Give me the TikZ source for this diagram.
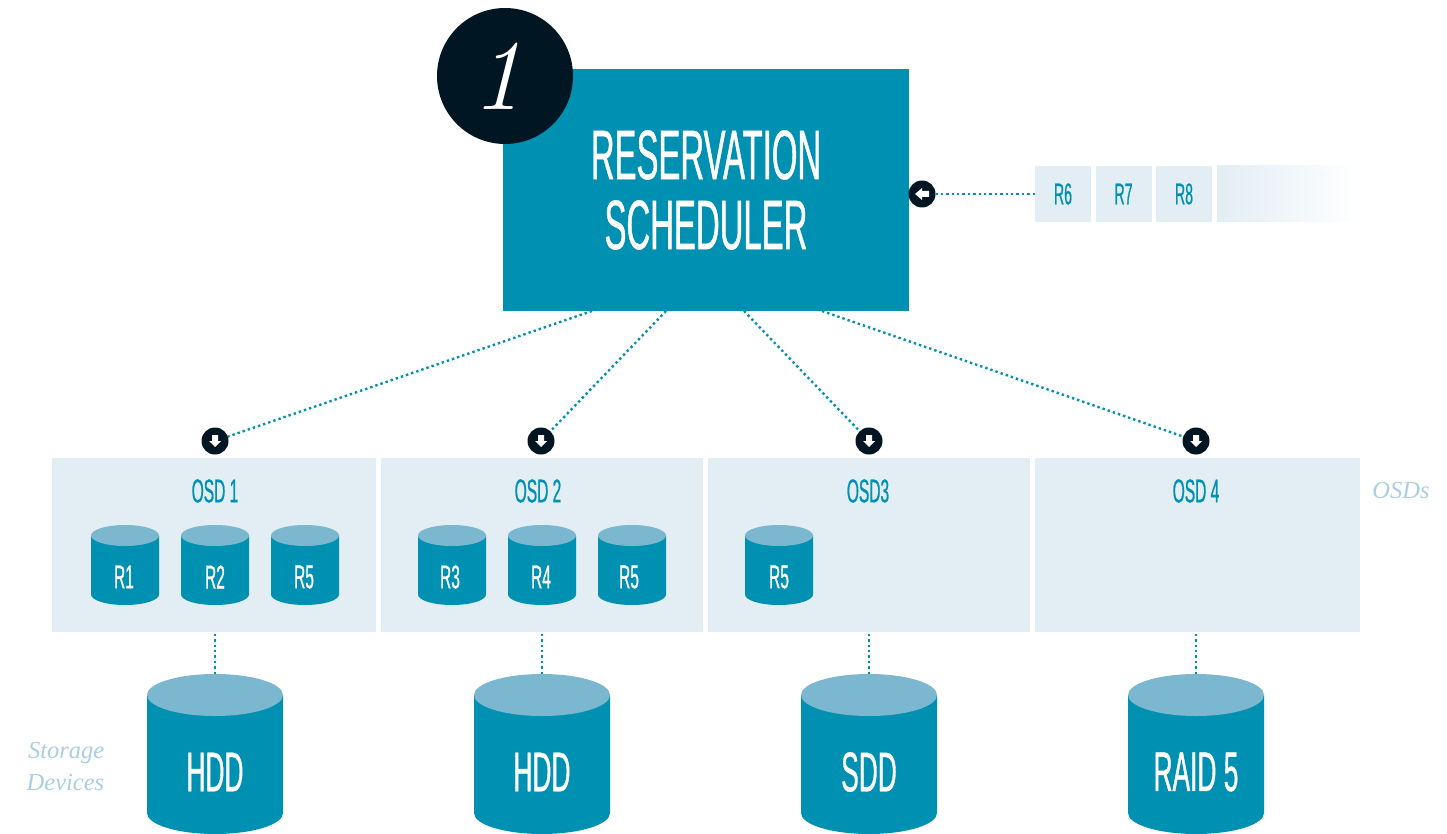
\documentclass[tikz,border=0pt]{standalone}
\usepackage{fontspec}
\usetikzlibrary{shapes,arrows.meta,calc}
\newfontfamily\condfont[FakeStretch=0.47,FakeBold=0.6]{Liberation Sans}
\newfontfamily\noteserif{Liberation Serif}
\definecolor{tealmain}{HTML}{0090B2}
\definecolor{tealcap}{HTML}{7BB8CF}
\definecolor{paleblue}{HTML}{E2EDF4}
\definecolor{notecolor}{HTML}{A9CFE0}
\definecolor{nightblue}{HTML}{011623}
\tikzset{
  panel/.style={rectangle,fill=paleblue,inner sep=0pt,outer sep=0pt},
  queuebox/.style={panel,minimum width=56pt,minimum height=56pt,text=tealmain,font=\condfont\fontsize{30}{30}\selectfont},
  osdbox/.style={panel,minimum height=174pt},
  osdtitle/.style={text=tealmain,inner sep=0pt,font=\condfont\fontsize{33}{33}\selectfont},
  disk/.style 2 args={rectangle,inner sep=0pt,outer sep=0pt,path picture={
      \fill[tealmain] ([yshift=-#2pt]path picture bounding box.north west)
        -- ([yshift=#2pt]path picture bounding box.south west)
        arc[start angle=180,end angle=360,x radius=#1pt,y radius=#2pt]
        -- ([yshift=-#2pt]path picture bounding box.north east) -- cycle;
      \fill[tealcap] ([yshift=-#2pt]path picture bounding box.north) ellipse[x radius=#1pt,y radius=#2pt];}},
  bigdisk/.style={disk={68}{21},minimum width=136pt,minimum height=160pt},
  smalldisk/.style={disk={34}{10.5},minimum width=68pt,minimum height=80pt},
  bigtext/.style={text=white,inner sep=0pt,font=\condfont\fontsize{56}{56}\selectfont},
  smalltext/.style={text=white,inner sep=0pt,font=\condfont\fontsize{33}{33}\selectfont},
  darkdot/.style={circle,fill=nightblue,minimum size=27pt,inner sep=0pt,outer sep=0pt},
  downdot/.style={darkdot,path picture={\fill[white,shift={(path picture bounding box.center)}]
      (-3pt,6pt)--(3pt,6pt)--(3pt,0pt)--(6pt,0pt)--(0pt,-6pt)--(-6pt,0pt)--(-3pt,0pt)--cycle;}},
  leftdot/.style={darkdot,path picture={\fill[white,shift={(path picture bounding box.center)}]
      (7pt,-3pt)--(7pt,3pt)--(0pt,3pt)--(0pt,6pt)--(-7pt,0pt)--(0pt,-6pt)--(0pt,-3pt)--cycle;}},
  dotline/.style={tealmain,line width=2.4pt,dash pattern=on 2.4pt off 3pt},
  sidenote/.style={text=notecolor,inner sep=0pt,font=\noteserif\itshape\fontsize{24.5}{32}\selectfont}
}
\begin{document}
\begin{tikzpicture}[x=1pt,y=-1pt]
  \useasboundingbox (0,0) rectangle (1447,834);
  % scheduler
  \node[rectangle,fill=tealmain,minimum width=406pt,minimum height=242pt,inner sep=0pt,outer sep=0pt,align=center,text=white,font=\condfont\fontsize{70}{70}\selectfont] (sched) at (706,190) {RESERVATION\\SCHEDULER};
  \node[circle,fill=nightblue,minimum size=136pt,inner sep=0pt,text=white,font=\itshape\fontsize{100}{100}\selectfont] (badge) at (505,76) {\hspace*{-16pt}1};
  % queue
  \node[leftdot] (qdot) at (922,194) {};
  \node[queuebox] (r6) at (1063,194) {R6};
  \node[queuebox] (r7) at (1123.5,194) {R7};
  \node[queuebox] (r8) at (1184,194) {R8};
  \node[panel,minimum width=143pt,minimum height=56pt,left color=paleblue,right color=white] (rest) at (1288.5,194) {};
  \draw[dotline] (r6) -- (qdot);
  % OSDs
  \node[osdbox,minimum width=324pt] (osd1) at (214,545) {};
  \node[osdbox,minimum width=322pt] (osd2) at (542,545) {};
  \node[osdbox,minimum width=322pt] (osd3) at (869,545) {};
  \node[osdbox,minimum width=325pt] (osd4) at (1197.5,545) {};
  \node[osdtitle] (title1) at (215,491) {OSD 1};
  \node[osdtitle] (title2) at (538,491) {OSD 2};
  \node[osdtitle] (title3) at (868,491) {OSD3};
  \node[osdtitle] (title4) at (1196,491) {OSD 4};
  \node[sidenote] (osdnote) at (1401,491) {OSDs};
  \node[downdot] (dot1) at (215,441) {};
  \node[downdot] (dot2) at (541,441) {};
  \node[downdot] (dot3) at (869,441) {};
  \node[downdot] (dot4) at (1196,441) {};
  \coordinate (out1) at (592,311);
  \coordinate (out2) at (666,311);
  \coordinate (out3) at (744,311);
  \coordinate (out4) at (822,311);
  \draw[dotline] (out1) -- (dot1);
  \draw[dotline] (out2) -- (dot2);
  \draw[dotline] (out3) -- (dot3);
  \draw[dotline] (out4) -- (dot4);
  % reservations
  \node[smalldisk] (a1) at (125,565) {};
  \node[smalldisk] (a2) at (215,565) {};
  \node[smalldisk] (a3) at (305,565) {};
  \node[smalldisk] (b1) at (452,565) {};
  \node[smalldisk] (b2) at (542,565) {};
  \node[smalldisk] (b3) at (632,565) {};
  \node[smalldisk] (c1) at (779,565) {};
  \node[smalltext] (a1text) at (124,577) {R1};
  \node[smalltext] (a2text) at (215,577) {R2};
  \node[smalltext] (a3text) at (304,577) {R5};
  \node[smalltext] (b1text) at (450,577) {R3};
  \node[smalltext] (b2text) at (541,577) {R4};
  \node[smalltext] (b3text) at (629,577) {R5};
  \node[smalltext] (c1text) at (779,577) {R5};
  % storage
  \node[bigdisk] (hdd1) at (215,754) {};
  \node[bigdisk] (hdd2) at (542,754) {};
  \node[bigdisk] (sdd) at (869,754) {};
  \node[bigdisk] (raid) at (1196,754) {};
  \node[bigtext] (hdd1text) at (215,772) {HDD};
  \node[bigtext] (hdd2text) at (542,772) {HDD};
  \node[bigtext] (sddtext) at (869,772) {SDD};
  \node[bigtext] (raidtext) at (1196,772) {RAID 5};
  \node[sidenote,align=right] (storenote) at (65.5,767) {Storage\\Devices};
  \draw[dotline] (hdd1.north) -- (hdd1.north |- osd1.south);
  \draw[dotline] (hdd2.north) -- (hdd2.north |- osd2.south);
  \draw[dotline] (sdd.north) -- (sdd.north |- osd3.south);
  \draw[dotline] (raid.north) -- (raid.north |- osd4.south);
\end{tikzpicture}
\end{document}
